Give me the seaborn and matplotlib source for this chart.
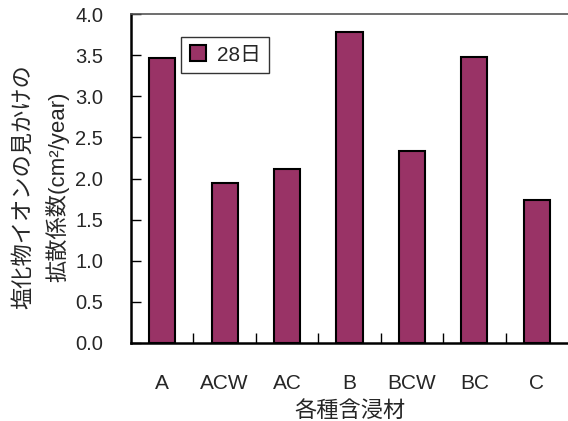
import numpy as np
import pandas as pd
import seaborn as sns
import matplotlib.pyplot as plt

# Data
categories = ['A', 'ACW', 'AC', 'B', 'BCW', 'BC', 'C']
values_28d = [3.47, 1.94, 2.12, 3.78, 2.34, 3.48, 1.74]
series_label = '28日'

y_ticks = [0.0, 0.5, 1.0, 1.5, 2.0, 2.5, 3.0, 3.5, 4.0]

df = pd.DataFrame({'材': categories, '係数': values_28d})

sns.set_style('white')
plt.rcParams['font.family'] = ['Liberation Sans', 'Noto Sans CJK JP']

fig = plt.figure(figsize=(5.68, 4.21), dpi=100)
ax = fig.add_axes([0.2306, 0.1853, 0.7694, 0.7814])

sns.barplot(data=df, x='材', y='係数', color='#993366', saturation=1,
            edgecolor='black', linewidth=1.5, width=0.42, label=series_label,
            ax=ax)

ax.set_xlim(-0.5, len(categories) - 0.5)
ax.set_ylim(0, 4.0)
ax.set_yticks(y_ticks)
ax.set_yticklabels(['%.1f' % t for t in y_ticks])

# ticks between categories, pointing inward
ax.set_xticks(np.arange(len(categories) - 1) + 0.5, minor=True)
ax.tick_params(axis='x', which='major', length=0, pad=22, labelsize=15)
ax.tick_params(axis='x', which='minor', direction='in', length=7,
               width=1, color='black', bottom=True)
ax.tick_params(axis='y', direction='in', length=7, width=1, color='black',
               pad=20, labelsize=14.5, left=True)

ax.set_xlabel('各種含浸材', fontsize=16, labelpad=6)
ax.set_ylabel('塩化物イオンの見かけの\n拡散係数(cm²/year)', fontsize=16,
              linespacing=1.6)
ax.yaxis.set_label_coords(-0.14, 0.475)

for side in ['left', 'bottom']:
    ax.spines[side].set_color('black')
    ax.spines[side].set_linewidth(1.8)
ax.spines['top'].set_color('#555555')
ax.spines['top'].set_linewidth(1.2)
ax.spines['right'].set_visible(False)

leg = ax.legend(loc='upper left', bbox_to_anchor=(0.115, 0.93), fontsize=15,
                frameon=True, fancybox=False, shadow=False, handlelength=0.8,
                handleheight=0.8, handletextpad=0.5, borderpad=0.4,
                borderaxespad=0)
leg.get_frame().set_edgecolor('black')
leg.get_frame().set_linewidth(1.0)

fig.savefig('out.png', dpi=100)
